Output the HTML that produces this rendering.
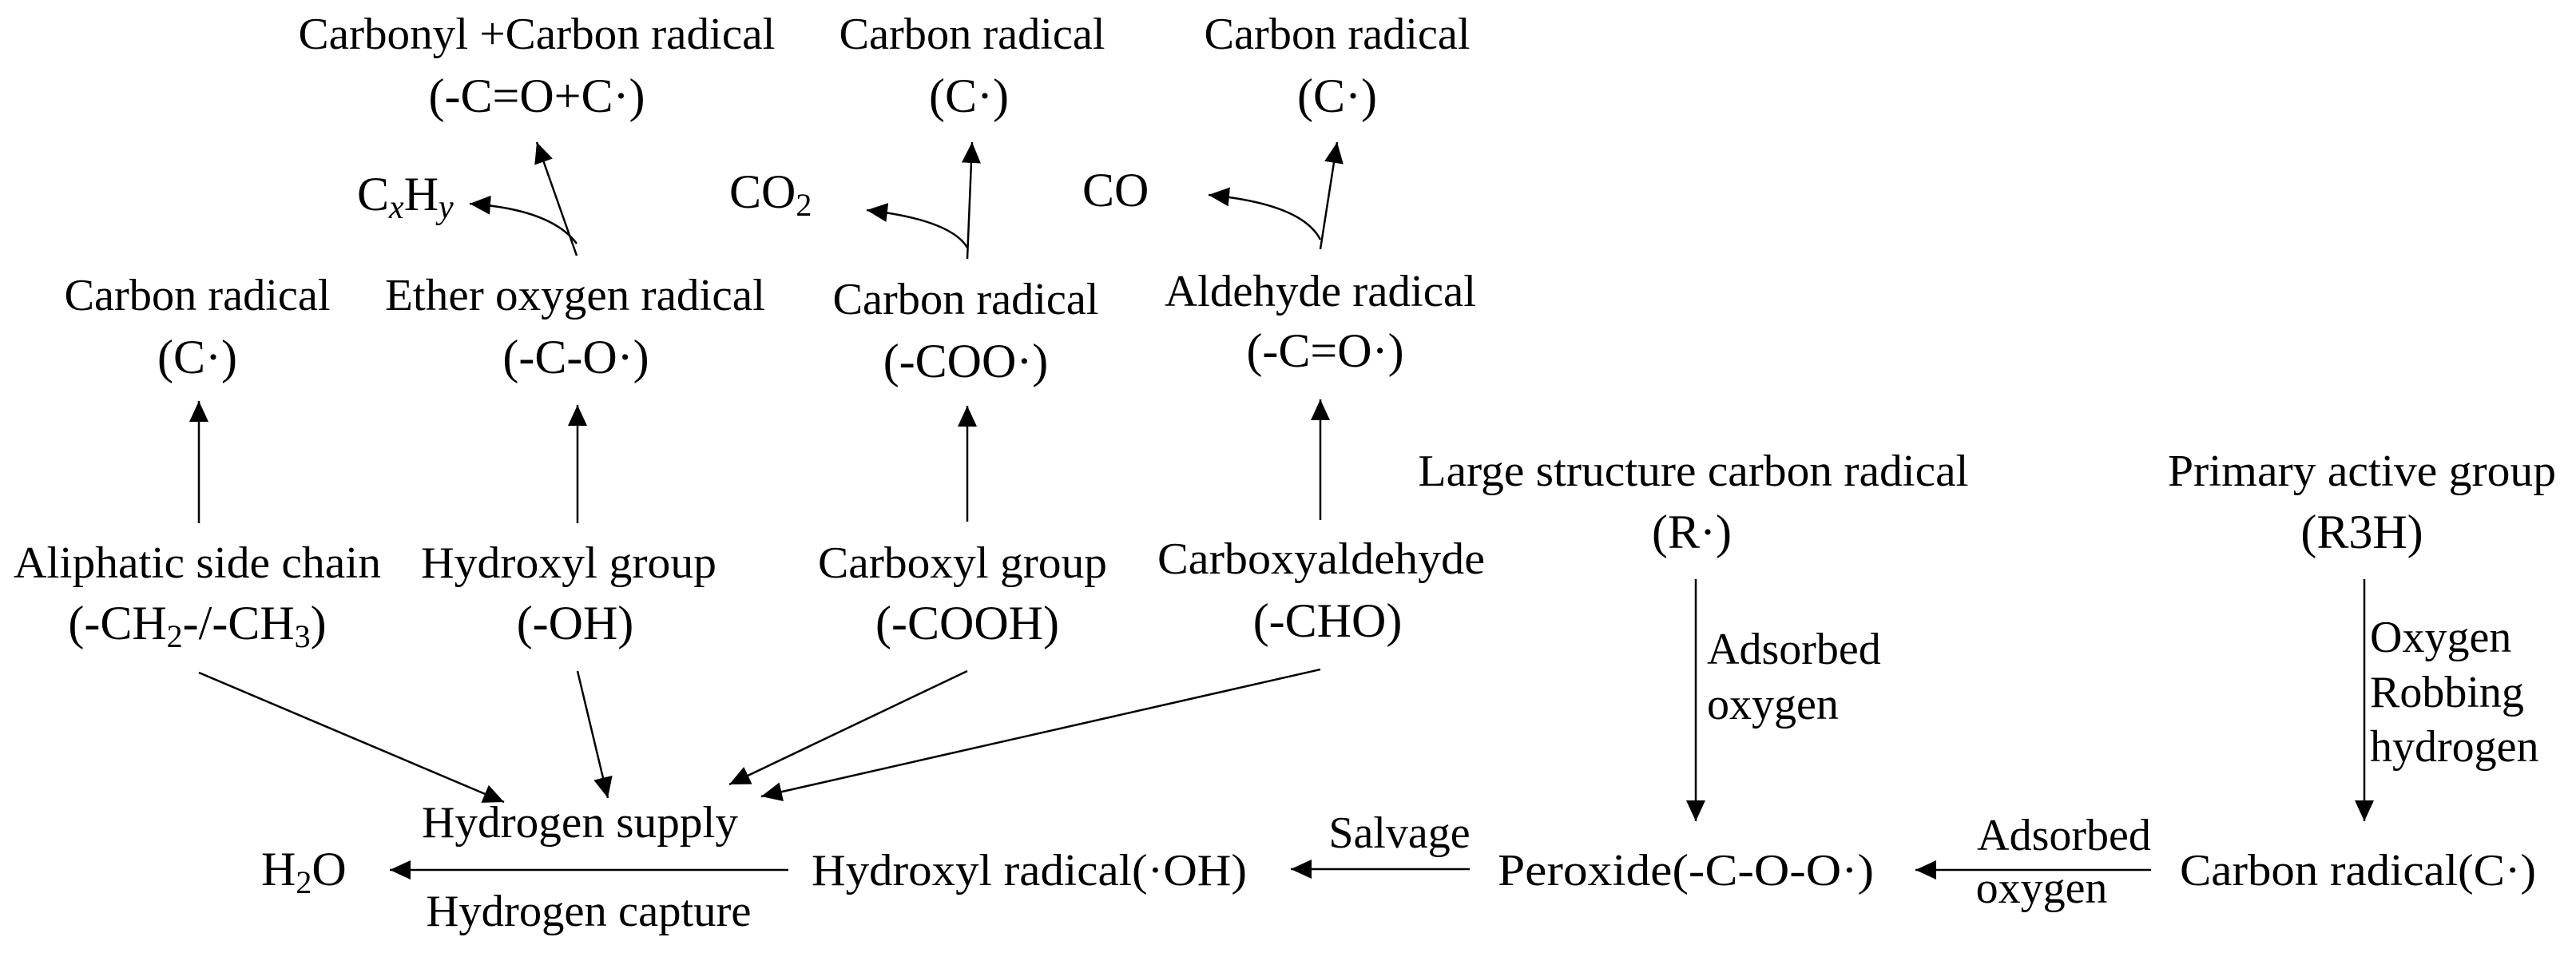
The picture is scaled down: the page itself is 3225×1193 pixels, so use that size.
<!DOCTYPE html>
<html><head><meta charset="utf-8"><style>
html,body{margin:0;padding:0;background:#fff;}
svg{display:block;}
text{font-family:"Liberation Serif",serif;font-size:56px;fill:#000;}
text.f{font-size:60px;}
</style></head><body>
<svg width="3225" height="1193" viewBox="0 0 3225 1193" xmlns="http://www.w3.org/2000/svg">
<defs>
<marker id="a" markerUnits="userSpaceOnUse" markerWidth="30" markerHeight="30" refX="26" refY="12" orient="auto">
<path d="M0,0 L26,12 L0,24 Z" fill="#000"/>
</marker>
</defs>
<g text-anchor="middle">
<text x="672" y="61" textLength="597" lengthAdjust="spacingAndGlyphs">Carbonyl +Carbon radical</text>
<text class="f" x="672" y="140">(-C=O+C·)</text>
<text x="1217" y="61" textLength="333" lengthAdjust="spacingAndGlyphs">Carbon radical</text>
<text class="f" x="1213" y="140">(C·)</text>
<text x="1674" y="61" textLength="333" lengthAdjust="spacingAndGlyphs">Carbon radical</text>
<text class="f" x="1674" y="140">(C·)</text>

<text x="247" y="388" textLength="333" lengthAdjust="spacingAndGlyphs">Carbon radical</text>
<text class="f" x="247" y="467">(C·)</text>
<text x="720" y="388" textLength="476" lengthAdjust="spacingAndGlyphs">Ether  oxygen radical</text>
<text class="f" x="721" y="467">(-C-O·)</text>
<text x="1209" y="393" textLength="333" lengthAdjust="spacingAndGlyphs">Carbon radical</text>
<text class="f" x="1209" y="472">(-COO·)</text>
<text x="1653" y="383" textLength="390" lengthAdjust="spacingAndGlyphs">Aldehyde radical</text>
<text class="f" x="1659" y="459">(-C=O·)</text>

<text x="247" y="723" textLength="460" lengthAdjust="spacingAndGlyphs">Aliphatic  side chain</text>
<text class="f" x="247" y="800">(-CH<tspan font-size="40" dy="10">2</tspan><tspan dy="-10">-/-CH</tspan><tspan font-size="40" dy="10">3</tspan><tspan dy="-10">)</tspan></text>
<text x="712" y="723" textLength="370" lengthAdjust="spacingAndGlyphs">Hydroxyl group</text>
<text class="f" x="720" y="800">(-OH)</text>
<text x="1205" y="723" textLength="362" lengthAdjust="spacingAndGlyphs">Carboxyl group</text>
<text class="f" x="1211" y="800">(-COOH)</text>
<text x="1654" y="718" textLength="410" lengthAdjust="spacingAndGlyphs">Carboxyaldehyde</text>
<text class="f" x="1662" y="797">(-CHO)</text>

<text x="726" y="1048" textLength="396" lengthAdjust="spacingAndGlyphs">Hydrogen supply</text>
<text x="737" y="1159" textLength="407" lengthAdjust="spacingAndGlyphs">Hydrogen capture</text>
<text x="1752" y="1061">Salvage</text>
<text x="2584" y="1064">Adsorbed</text>
<text x="2556" y="1130">oxygen</text>
<text x="2120" y="608" textLength="689" lengthAdjust="spacingAndGlyphs">Large structure carbon radical</text>
<text class="f" x="2118" y="686">(R·)</text>
<text x="2957" y="608" textLength="486" lengthAdjust="spacingAndGlyphs">Primary active group</text>
<text class="f" x="2957" y="686">(R3H)</text>
</g>
<text class="f" x="447" y="263">C<tspan font-style="italic" font-size="42" dy="10">x</tspan><tspan dy="-10">H</tspan><tspan font-style="italic" font-size="42" dy="10">y</tspan></text>
<text class="f" x="913" y="260">CO<tspan font-size="40" dy="10">2</tspan></text>
<text class="f" x="1355" y="258">CO</text>
<text class="f" x="327" y="1108">H<tspan font-size="40" dy="10">2</tspan><tspan dy="-10">O</tspan></text>
<text x="1016" y="1108" textLength="545" lengthAdjust="spacingAndGlyphs">Hydroxyl radical(·OH)</text>
<text x="1875" y="1108" textLength="471" lengthAdjust="spacingAndGlyphs">Peroxide(-C-O-O·)</text>
<text x="2729" y="1108" textLength="446" lengthAdjust="spacingAndGlyphs">Carbon radical(C·)</text>
<text x="2137" y="831">Adsorbed</text>
<text x="2137" y="900">oxygen</text>
<text x="2967" y="816">Oxygen</text>
<text x="2967" y="885">Robbing</text>
<text x="2967" y="953">hydrogen</text>

<g stroke="#000" stroke-width="2.5" fill="none" marker-end="url(#a)">
<line x1="722" y1="320" x2="672" y2="178"/>
<path d="M722,305 Q690,262 588,255"/>
<line x1="1211" y1="324" x2="1217" y2="178"/>
<path d="M1211,310 Q1190,275 1085,263"/>
<line x1="1653" y1="312" x2="1674" y2="178"/>
<path d="M1653,300 Q1630,255 1513,244"/>

<line x1="249" y1="655" x2="249" y2="502"/>
<line x1="723" y1="655" x2="723" y2="507"/>
<line x1="1211" y1="653" x2="1211" y2="508"/>
<line x1="1653" y1="651" x2="1653" y2="500"/>

<line x1="249" y1="842" x2="631" y2="1004"/>
<line x1="723" y1="840" x2="761" y2="999"/>
<line x1="1211" y1="840" x2="913" y2="982"/>
<line x1="1653" y1="838" x2="953" y2="997"/>

<line x1="987" y1="1089" x2="488" y2="1089"/>
<line x1="1840" y1="1088" x2="1616" y2="1088"/>
<line x1="2693" y1="1089" x2="2398" y2="1089"/>
<line x1="2123" y1="725" x2="2123" y2="1028"/>
<line x1="2960" y1="725" x2="2960" y2="1028"/>
</g>
</svg>
</body></html>
